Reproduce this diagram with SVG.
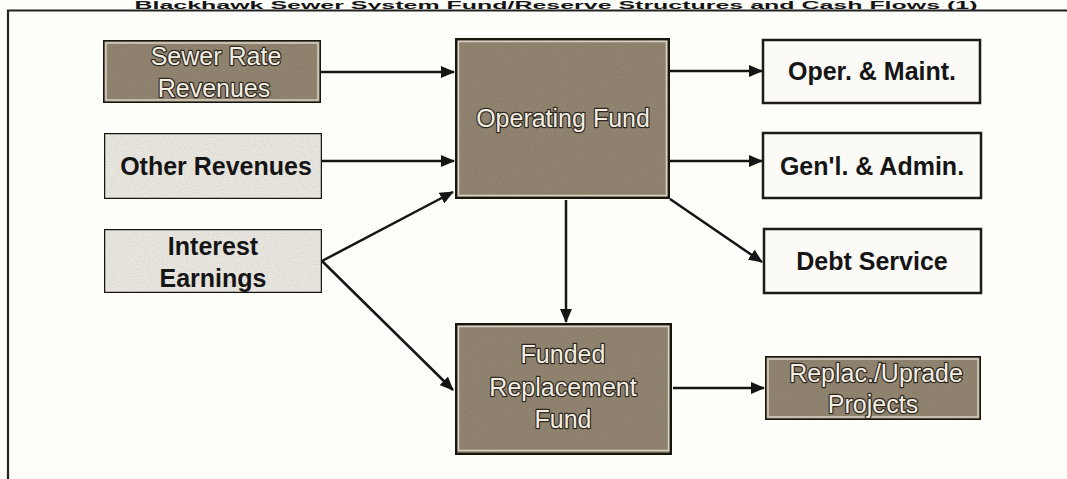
<svg xmlns="http://www.w3.org/2000/svg" width="1067" height="479" viewBox="0 0 1067 479">
<style>
.dark{fill:#948873;stroke:#1e1a16;}
.inner{fill:none;stroke:#d9d3c6;stroke-width:1.5;}
.light{fill:#efece6;stroke:#1e1a16;stroke-width:2.5;}
.white{fill:#fbfaf6;stroke:#1e1a16;stroke-width:2.5;}
.dt{font-family:"Liberation Sans",Arial,sans-serif;font-size:25px;fill:#f3eee4;stroke:#2e281f;stroke-width:2.4;paint-order:stroke;stroke-linejoin:round;text-anchor:middle;}
.bt{font-family:"Liberation Sans",Arial,sans-serif;font-size:25px;font-weight:bold;fill:#151515;text-anchor:middle;}
.con{stroke:#151515;stroke-width:2.5;fill:none;}
</style>
<defs>
<marker id="ah" viewBox="0 0 14 12" refX="13" refY="6" markerWidth="14" markerHeight="12" markerUnits="userSpaceOnUse" orient="auto">
<path d="M0,0 L14,6 L0,12 Z" fill="#151515"/>
</marker>
<filter id="grain" x="0" y="0" width="1" height="1">
<feTurbulence type="fractalNoise" baseFrequency="0.9" numOctaves="2" seed="3" result="n"/>
<feColorMatrix in="n" type="matrix" values="0 0 0 0 0  0 0 0 0 0  0 0 0 0 0  0 0 0 0.3 -0.06" result="a"/>
<feComposite in="a" in2="SourceGraphic" operator="in" result="b"/>
<feMerge><feMergeNode in="SourceGraphic"/><feMergeNode in="b"/></feMerge>
</filter>
</defs>
<rect x="0" y="0" width="1067" height="479" fill="#fdfdfa"/>
<text x="556" y="8.5" font-family="Liberation Sans,Arial,sans-serif" font-size="11" font-weight="bold" fill="#151515" text-anchor="middle" textLength="843" lengthAdjust="spacingAndGlyphs">Blackhawk Sewer System Fund/Reserve Structures and Cash Flows (1)</text>
<path d="M8,479 L8,10.5 L1067,10.5" fill="none" stroke="#222" stroke-width="2.2"/>

<g id="connectors">
<line class="con" x1="321" y1="72" x2="454" y2="72" marker-end="url(#ah)"/>
<line class="con" x1="322" y1="161" x2="454" y2="161" marker-end="url(#ah)"/>
<line class="con" x1="322" y1="261" x2="453" y2="192" marker-end="url(#ah)"/>
<line class="con" x1="322" y1="261" x2="453" y2="390" marker-end="url(#ah)"/>
<line class="con" x1="670" y1="71" x2="762" y2="71" marker-end="url(#ah)"/>
<line class="con" x1="670" y1="161" x2="762" y2="161" marker-end="url(#ah)"/>
<line class="con" x1="670" y1="199" x2="762" y2="262" marker-end="url(#ah)"/>
<line class="con" x1="566" y1="200" x2="566" y2="322" marker-end="url(#ah)"/>
<line class="con" x1="673" y1="388" x2="764" y2="388" marker-end="url(#ah)"/>
</g>

<g id="sewer-rate">
<rect class="dark" x="103" y="40" width="218" height="63" stroke-width="2.8" filter="url(#grain)"/>
<rect class="inner" x="106" y="43" width="212" height="57"/>
<text class="dt" x="216" y="65">Sewer Rate</text>
<text class="dt" x="214" y="97">Revenues</text>
</g>
<g id="other-revenues">
<rect class="light" x="104" y="133" width="218" height="66" filter="url(#grain)"/>
<text class="bt" x="216" y="175">Other Revenues</text>
</g>
<g id="interest">
<rect class="light" x="104" y="229" width="218" height="64" fill="#f3f1ec" filter="url(#grain)"/>
<text class="bt" x="213" y="255" fill="#2a2a2a">Interest</text>
<text class="bt" x="213" y="287" fill="#2a2a2a">Earnings</text>
</g>
<g id="operating-fund">
<rect class="dark" x="455" y="38" width="215" height="161" stroke-width="4.5" filter="url(#grain)"/>
<rect class="inner" x="458.5" y="41.5" width="208" height="154" stroke="#b8ae9c"/>
<text class="dt" x="563" y="127">Operating Fund</text>
</g>
<g id="oper-maint">
<rect class="white" x="763" y="40" width="217" height="63"/>
<text class="bt" x="872" y="80">Oper. &amp; Maint.</text>
</g>
<g id="genl-admin">
<rect class="white" x="763" y="133" width="218" height="65"/>
<text class="bt" x="872" y="175">Gen'l. &amp; Admin.</text>
</g>
<g id="debt-service">
<rect class="white" x="764" y="229" width="217" height="64"/>
<text class="bt" x="872" y="270">Debt Service</text>
</g>
<g id="funded-replacement">
<rect class="dark" x="455" y="323" width="217" height="132" stroke-width="4.5" filter="url(#grain)"/>
<rect class="inner" x="458.5" y="326.5" width="210" height="124"/>
<text class="dt" x="563" y="363">Funded</text>
<text class="dt" x="563" y="396">Replacement</text>
<text class="dt" x="563" y="428">Fund</text>
</g>
<g id="replac-projects">
<rect class="dark" x="765" y="356" width="216" height="64" stroke-width="3" filter="url(#grain)"/>
<rect class="inner" x="768" y="359" width="210" height="58"/>
<text class="dt" x="876" y="382">Replac./Uprade</text>
<text class="dt" x="873" y="413">Projects</text>
</g>
</svg>
